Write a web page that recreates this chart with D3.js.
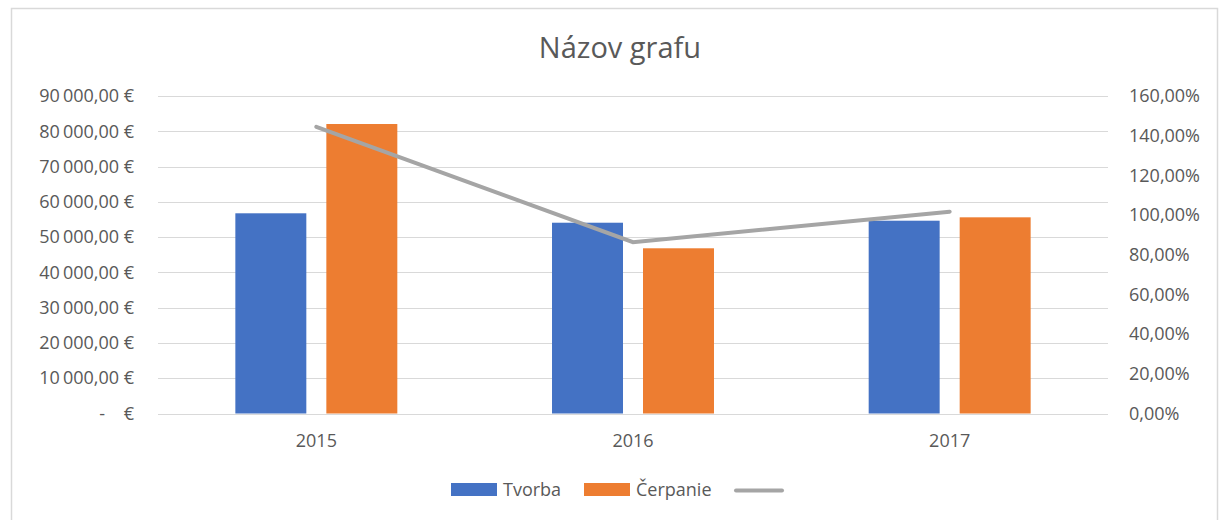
<!DOCTYPE html>
<html>
<head>
<meta charset="utf-8">
<script src="https://cdn.jsdelivr.net/npm/d3@7"></script>
<style>
  body { margin: 0; background: #fff; }
  text { font-family: "Open Sans", sans-serif; fill: #595959; }
</style>
</head>
<body>
<svg id="chart" width="1219" height="520"></svg>
<script>
var years = ["2015", "2016", "2017"];
var seriesNames = ["Tvorba", "Čerpanie"];
var tvorba = [56750, 54080, 54650];
var cerpanie = [82060, 46830, 55610];
var ratio = [1.445, 0.863, 1.017];
var leftTicks = [0, 10000, 20000, 30000, 40000, 50000, 60000, 70000, 80000, 90000];
var rightTicks = [0, 0.2, 0.4, 0.6, 0.8, 1.0, 1.2, 1.4, 1.6];

var colors = { "Tvorba": "#4472c4", "Čerpanie": "#ed7d31" };
var lineColor = "#a5a5a5";

var svg = d3.select('#chart');
var margin = { left: 158, right: 111, top: 96, bottom: 106.5 };
var W = 1219, H = 520;

// chart frame
svg.append('rect')
  .attr('x', 11.5).attr('y', 8.5)
  .attr('width', 1206).attr('height', 520)
  .attr('fill', 'white').attr('stroke', '#d9d9d9').attr('stroke-width', 1.5);

var locale = d3.formatLocale({ decimal: ",", thousands: "\u2009", grouping: [3], currency: ["", " €"] });
var fmtMoney = locale.format(",.2f");
var fmtPct = locale.format(".2f");

var x0 = d3.scaleBand().domain(years).range([margin.left, W - margin.right]);
var x1 = d3.scaleBand().domain(seriesNames).range([0, x0.bandwidth()]).paddingInner(0.22).paddingOuter(0.85);
var yL = d3.scaleLinear().domain([0, 90000]).range([H - margin.bottom, margin.top]);
var yR = d3.scaleLinear().domain([0, 1.6]).range([H - margin.bottom, margin.top]);

// gridlines
svg.append('g').selectAll('line')
  .data(leftTicks)
  .enter().append('line')
  .attr('x1', margin.left).attr('x2', W - margin.right)
  .attr('y1', function(d) { return Math.round(yL(d)) + 0.5; })
  .attr('y2', function(d) { return Math.round(yL(d)) + 0.5; })
  .attr('stroke', '#d9d9d9').attr('stroke-width', 1);

// left axis labels
var leftAxis = d3.axisLeft(yL).tickValues(leftTicks).tickSize(0).tickPadding(24)
  .tickFormat(function(d) { return d === 0 ? "-\u00a0\u00a0\u00a0\u00a0€" : fmtMoney(d) + "\u00a0€"; });
var gl = svg.append('g').attr('transform', 'translate(' + margin.left + ',0)').call(leftAxis);
gl.select('.domain').remove();
gl.selectAll('text').attr('font-size', '18px').style('fill', '#595959').attr('font-family', null);

// right axis labels
var rightAxis = d3.axisRight(yR).tickValues(rightTicks).tickSize(0).tickPadding(21)
  .tickFormat(function(d) { return fmtPct(d * 100) + "%"; });
var gr = svg.append('g').attr('transform', 'translate(' + (W - margin.right) + ',0)').call(rightAxis);
gr.select('.domain').remove();
gr.selectAll('text').attr('font-size', '18px').style('fill', '#595959').attr('font-family', null);

// category axis
var bottomAxis = d3.axisBottom(x0).tickSize(0).tickPadding(21);
var gb = svg.append('g').attr('transform', 'translate(0,' + (H - margin.bottom) + ')').call(bottomAxis);
gb.select('.domain').remove();
gb.selectAll('text').attr('font-size', '18px').style('fill', '#595959').attr('font-family', null);

// bars
var rows = years.map(function(y, i) {
  return { year: y, values: [{ name: "Tvorba", v: tvorba[i] }, { name: "Čerpanie", v: cerpanie[i] }] };
});
svg.append('g').selectAll('g')
  .data(rows)
  .enter().append('g')
  .attr('transform', function(d) { return 'translate(' + x0(d.year) + ',0)'; })
  .selectAll('rect')
  .data(function(d) { return d.values; })
  .enter().append('rect')
  .attr('x', function(d) { return x1(d.name); })
  .attr('width', x1.bandwidth())
  .attr('y', function(d) { return yL(d.v); })
  .attr('height', function(d) { return yL(0) - yL(d.v); })
  .attr('fill', function(d) { return colors[d.name]; });

// ratio line
var line = d3.line()
  .x(function(d, i) { return x0(years[i]) + x0.bandwidth() / 2; })
  .y(function(d) { return yR(d); });
svg.append('path')
  .datum(ratio)
  .attr('d', line)
  .attr('fill', 'none')
  .attr('stroke', lineColor)
  .attr('stroke-width', 4)
  .attr('stroke-linecap', 'round');

// title
svg.append('text')
  .attr('x', 620).attr('y', 58)
  .attr('text-anchor', 'middle')
  .attr('font-size', '29px')
  .text('Názov grafu');

// legend
var legend = svg.append('g');
var legendItems = [
  { name: "Tvorba", x: 451, color: colors["Tvorba"], type: "rect" },
  { name: "Čerpanie", x: 584, color: colors["Čerpanie"], type: "rect" },
  { name: "", x: 734, color: lineColor, type: "line" }
];
legendItems.forEach(function(d) {
  if (d.type === "rect") {
    legend.append('rect')
      .attr('x', d.x).attr('y', 483)
      .attr('width', 46).attr('height', 13)
      .attr('fill', d.color);
    legend.append('text')
      .attr('x', d.x + 52).attr('y', 496)
      .attr('font-size', '18px')
      .text(d.name);
  } else {
    legend.append('line')
      .attr('x1', d.x + 2).attr('x2', d.x + 48)
      .attr('y1', 490.5).attr('y2', 490.5)
      .attr('stroke', d.color).attr('stroke-width', 4)
      .attr('stroke-linecap', 'round');
  }
});
</script>
</body>
</html>
